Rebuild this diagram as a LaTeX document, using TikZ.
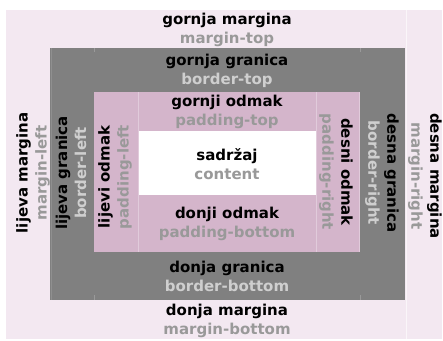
\documentclass[tikz,border=0pt]{standalone}
\usepackage{fontspec}
\setmainfont{DejaVu Sans}
\usepackage{tikz}

\definecolor{marginfill}{HTML}{F3E8F1}
\definecolor{borderfill}{HTML}{808080}
\definecolor{paddingfill}{HTML}{D4B5CB}
\definecolor{subgrey}{HTML}{999999}
\definecolor{sublight}{HTML}{CFCFCF}

\begin{document}
\begin{tikzpicture}[x=1pt, y=-1pt,
    lbl/.style={inner sep=0, align=center, font=\bfseries\fontsize{15}{19}\selectfont},
    seam/.style={line width=0.8pt}]
  \useasboundingbox (0, 0) rectangle (443, 340);

  % nested boxes
  \fill[marginfill]  (6, 10)   rectangle (442, 339);
  \fill[borderfill]  (50, 48)  rectangle (405, 300);
  \fill[paddingfill] (94, 92)  rectangle (360, 252);
  \fill[white]       (138, 131) rectangle (316, 195);

  % faint cell seams
  \draw[seam, white!60!marginfill] (406, 10) -- (406, 339);
  \draw[seam, white!12!borderfill] (51, 48) -- (51, 300);
  \draw[seam, white!20!borderfill]
    (94, 48) -- (94, 52)  (360, 48) -- (360, 52)
    (94, 295) -- (94, 300)  (360, 295) -- (360, 300);
  \draw[seam, white!30!paddingfill]
    (138, 92) -- (138, 252)  (316, 92) -- (316, 252)  (359, 92) -- (359, 252);

  \node[lbl] (mtop) at (227, 30) {gornja margina\\\color{subgrey}margin-top};
  \node[lbl] (btop) at (227, 71) {gornja granica\\\color{sublight}border-top};
  \node[lbl] (ptop) at (227, 112) {gornji odmak\\\color{subgrey}padding-top};

  \node[lbl] (content) at (227, 164) {sadržaj\\\color{subgrey}content};

  \node[lbl] (pbot) at (227, 224) {donji odmak\\\color{subgrey}padding-bottom};
  \node[lbl] (bbot) at (227, 276) {donja granica\\\color{sublight}border-bottom};
  \node[lbl] (mbot) at (227, 321) {donja margina\\\color{subgrey}margin-bottom};

  \node[lbl, rotate=90] (mleft) at (33, 173) {lijeva margina\\\color{subgrey}margin-left};
  \node[lbl, rotate=90] (bleft) at (71, 173) {lijeva granica\\\color{sublight}border-left};
  \node[lbl, rotate=90] (pleft) at (115, 177) {lijevi odmak\\\color{subgrey}padding-left};

  \node[lbl, rotate=-90] (pright) at (336, 172) {desni odmak\\\color{subgrey}padding-right};
  \node[lbl, rotate=-90] (bright) at (382, 173) {desna granica\\\color{sublight}border-right};
  \node[lbl, rotate=-90] (mright) at (425, 176) {desna margina\\\color{subgrey}margin-right};
\end{tikzpicture}
\end{document}
